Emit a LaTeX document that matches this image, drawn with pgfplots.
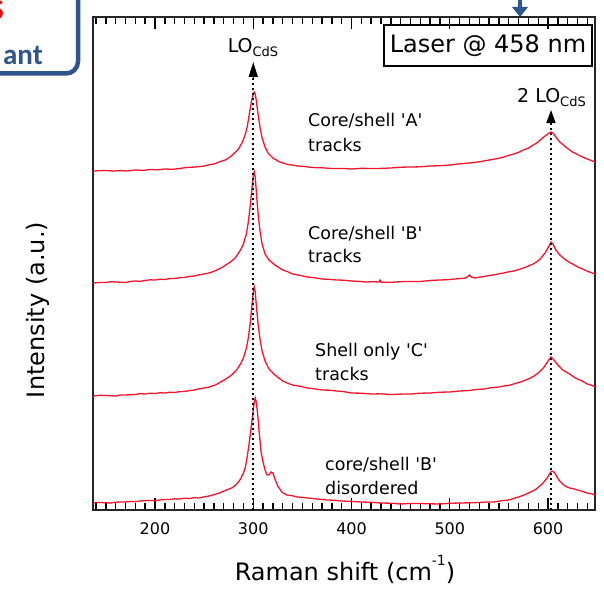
\documentclass[border=0pt]{standalone}
\usepackage{fontspec}
\setmainfont{DejaVu Sans}
\newfontfamily\calibri{Carlito}
\usepackage{pgfplots}
\pgfplotsset{compat=1.18}
\usetikzlibrary{arrows.meta}
\definecolor{curve}{RGB}{245,20,45}
\definecolor{slideblue}{RGB}{47,85,140}
\begin{document}
\begin{tikzpicture}
\useasboundingbox (0pt,0pt) rectangle (604pt,-588pt);
% cropped slide box (top left)
\draw[slideblue, line width=4.5pt, rounded corners=12pt] (-60pt,60pt) rectangle (78pt,-73.5pt);
\node[anchor=base east, text=slideblue, inner sep=0pt] at (43pt,-65pt) {\calibri\bfseries\fontsize{29}{29}\selectfont ant};
\node[anchor=base east, text=red, inner sep=0pt] at (4pt,-20pt) {\calibri\bfseries\fontsize{29}{29}\selectfont S};
% blue arrow at top
\fill[slideblue] (518pt,2pt) rectangle (522pt,-8pt);
\fill[slideblue] (512pt,-7pt) -- (528pt,-7pt) -- (520pt,-17pt) -- cycle;
\begin{axis}[
  at={(93pt,-510pt)}, anchor=south west,
  width=502pt, height=493pt, scale only axis,
  xmin=136.9, xmax=647.8, ymin=0, ymax=493,
  axis line style={line width=1.3pt, black!85},
  xtick={200,300,400,500,600},
  minor xtick={140,150,...,640},
  ytick=\empty,
  tick align=inside,
  major tick length=12pt, minor tick length=7pt,
  tick style={black, line width=1.4pt},
  tick label style={font=\fontsize{16}{16}\selectfont},
  xticklabel style={yshift=-9pt},
  /pgf/number format/assume math mode=true,
  clip=false,
]
% Curve A
\addplot[curve, line width=1.3pt] coordinates {
(137,339) (150,339.5) (158,339) (165,339.4) (172,339) (180,340) (188,339.6) (195,340.5) (203,340.2) (210,341) (218,340.7) (225,341.5) (232,342.5) (240,343) (246,343.4) (250,344) (255,345.2) (260,346)
(264,347.5) (268,349) (272,350.2) (275,352) (280,356) (285,361) (289,368) (292,376) (294,384) (296,396) (298,408) (300,416)
(301,418) (302,416) (303,410) (305,395) (307,382) (309,372) (312,363) (315,357) (320,352) (327,348)
(335,345.5) (340,345) (345,344) (352,343.5) (360,342.5) (370,342.2) (380,341.5) (390,341.6) (400,341) (410,341.7) (420,341.5) (430,341.6) (440,342) (450,342.8) (460,343) (470,343.2) (480,344) (490,344.3) (500,345)
(510,346.2) (520,347) (530,348.2) (540,350) (548,351.3) (555,353) (560,354.6) (565,356) (570,357.6) (575,360) (580,362) (585,365) (589,367.4) (592,370) (597,374) (601,377) (603,378)
(605,377) (608,373) (612,368) (615,365.5) (618,363) (622,360) (625,358) (630,355.5) (635,353) (641,350.6) (648,348)};
% Curve B
\addplot[curve, line width=1.3pt] coordinates {
(137,227) (144,227.6) (150,227.5) (155,228.3) (160,228) (165,227.8) (170,227.5) (175,228.6) (180,229) (185,228.7) (190,229.5) (195,230.2) (200,230) (205,230.8) (210,230.5) (215,231.4) (220,231.5) (225,232.4) (230,232.5)
(235,233.6) (240,234) (245,235.2) (250,236) (254,236.8) (258,238) (262,239.5) (265,241) (268,242.4) (272,245) (275,246.8) (278,249) (281,251.5) (283,254) (287,260) (290,266) (293,276)
(295,288) (297,305) (299,325) (300,334) (301,338) (302,333) (303,320) (305,295) (307,278) (309,266)
(312,256) (316,250) (322,245) (326,242.6) (330,240) (335,238.3) (340,236) (348,234.6) (355,233) (362,232.3) (370,231) (378,230.6) (385,230) (392,229.8) (400,229) (408,228.6) (415,228)
(422,228.3) (428,228) (429,230) (430,227.8) (438,227.6) (445,228) (452,228.4) (460,228.5) (468,228.4) (475,229) (482,229.7) (490,230) (498,230.3) (505,231) (512,231.6) (516,232) (518,233.2)
(520,235) (522,233) (526,232) (530,232.8) (535,233.5) (540,234.6) (545,235) (550,236.3) (555,237) (560,238.2) (565,239) (570,240.4) (575,242) (580,244) (585,246) (589,248.6) (592,251)
(597,257) (601,264) (603,268) (605,266) (608,260) (612,255) (615,252.4) (618,250) (622,247.5) (625,246) (630,243.2) (635,241) (641,238.4) (648,236)};
% Curve C
\addplot[curve, line width=1.3pt] coordinates {
(137,114) (144,114.7) (150,114.5) (155,114.2) (160,114) (165,115) (170,115) (175,115.3) (180,115.5) (185,116.4) (190,116) (195,116.8) (200,116.5) (205,117.2) (210,117) (215,117.8) (220,117.5) (225,118.4) (230,118.5)
(235,119.4) (240,120) (245,121.2) (250,122) (254,122.6) (258,124) (262,125.2) (265,127) (268,128.6) (272,131) (275,132.8) (278,135) (281,138) (283,140) (287,146) (290,152) (293,162)
(295,172) (297,188) (299,208) (300,218) (301,223) (302,218) (303,206) (305,185) (307,170) (309,159)
(312,149) (316,141) (322,135) (326,132) (330,129) (335,126.8) (340,125) (348,123.7) (355,122) (362,121.2) (370,120) (378,119.8) (385,119) (392,118.4) (400,117) (410,116.8) (420,116)
(430,116.2) (440,115.5) (450,115.9) (460,116) (470,116.8) (480,117) (490,117.8) (500,118) (510,119) (520,119.5) (528,120.6) (535,121) (542,122.3) (550,123) (556,124.2) (562,125) (567,126.7) (572,128) (577,129.8) (582,132)
(586,134.2) (590,137) (593,139.8) (596,143) (600,149) (603,153) (606,150) (610,145) (615,140) (618,138.2) (622,136) (626,133.2) (630,131) (635,128.8) (640,126) (644,124.8) (648,123)};
% Curve D
\addplot[curve, line width=1.3pt] coordinates {
(137,7) (141,7.6) (145,7.5) (150,7.2) (155,7) (160,7.8) (165,8) (170,8.1) (175,8.5) (180,8.4) (185,9) (190,9.4) (195,9.5) (200,9.4) (205,10) (210,10.6) (215,10.5) (220,11.2) (225,11)
(230,11.8) (235,11.5) (240,12.4) (245,12) (250,13.2) (255,14) (258,14.8) (262,16) (265,16.8) (268,18) (271,19.4) (273,20) (276,21.3) (278,22) (281,24) (283,26) (285,28.2) (287,31) (290,37)
(292,43) (294,54) (296,68) (298,84) (300,100) (301,108) (302,112) (303,108) (304,100) (305,90)
(306,78) (307,68) (308,58) (310,48) (312,40) (314,35) (316,35) (318,38) (320,37) (322,31)
(325,24) (329,18) (334,15) (340,14.2) (345,13) (352,12.4) (360,11.5) (368,10.8) (375,10) (382,9.8) (390,9) (400,8.6) (410,8) (420,7.7) (430,7) (440,6.8) (450,6)
(460,6.6) (470,6.5) (480,6.2) (490,6) (500,6.7) (510,7) (520,7.2) (530,7.5) (538,8) (545,8) (552,9.2) (560,10) (565,11.6) (570,13) (575,14.8) (580,17) (584,18.8) (588,21) (594,26)
(599,32) (602,37) (604,39) (606,38) (608,35) (611,30) (616,25) (619,23.2) (622,22) (626,21.2) (630,20) (635,18.6) (640,17) (644,16.3) (648,15)};
% dotted guide lines with arrows
\addplot[black, line width=2pt, dash pattern=on 2pt off 3pt] coordinates {(300,0) (300,432)};
\addplot[black, line width=2pt, dash pattern=on 2pt off 3pt] coordinates {(603,0) (603,386)};
\draw[-{Triangle[length=15pt,width=9pt]}, line width=1.5pt] (axis cs:300,430) -- (axis cs:300,448);
\draw[-{Triangle[length=13pt,width=9pt]}, line width=1.5pt] (axis cs:603,385) -- (axis cs:603,400);
\end{axis}
% Laser box
\draw[line width=1.8pt] (384pt,-25pt) rectangle (592pt,-66pt);
\node at (488pt,-45.5pt) {\fontsize{24}{24}\selectfont Laser @ 458 nm};
% peak labels
\node[anchor=base, inner sep=0pt] at (253pt,-53pt) {\fontsize{19}{19}\selectfont LO\raisebox{-4pt}{\fontsize{13}{13}\selectfont CdS}};
\node[anchor=base west, inner sep=0pt] at (517pt,-103pt) {\fontsize{19}{19}\selectfont 2 LO\raisebox{-4pt}{\fontsize{13}{13}\selectfont CdS}};
% curve labels
\begin{scope}[every node/.style={anchor=base west, inner sep=0pt, font=\fontsize{17.5}{17.5}\selectfont}]
\node at (308pt,-127pt) {Core/shell \textquotesingle A\textquotesingle};
\node at (308pt,-151pt) {tracks};
\node at (308pt,-239pt) {Core/shell \textquotesingle B\textquotesingle};
\node at (308pt,-262pt) {tracks};
\node at (315pt,-356pt) {Shell only \textquotesingle C\textquotesingle};
\node at (315pt,-380pt) {tracks};
\node at (325pt,-470pt) {core/shell \textquotesingle B\textquotesingle};
\node at (325pt,-494pt) {disordered};
\end{scope}
% axis labels
\node[rotate=90] at (38pt,-310pt) {\fontsize{24}{24}\selectfont Intensity (a.u.)};
\node[anchor=base] at (345pt,-580pt) {\fontsize{24}{24}\selectfont Raman shift (cm\raisebox{15pt}{\fontsize{14}{14}\selectfont -1})};
\end{tikzpicture}
\end{document}
